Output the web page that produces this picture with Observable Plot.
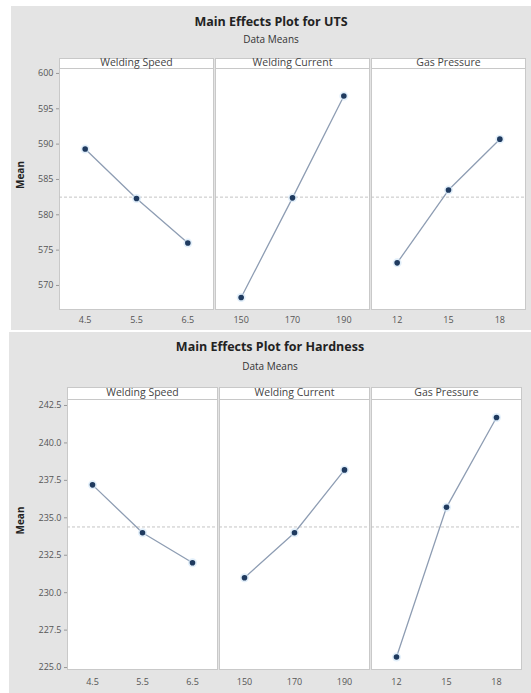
<!DOCTYPE html>
<html>
<head>
<meta charset="utf-8">
<script src="https://cdn.jsdelivr.net/npm/d3@7"></script>
<script src="https://cdn.jsdelivr.net/npm/@observablehq/plot@0.6"></script>
<style>
  html, body { margin: 0; padding: 0; background: #ffffff; width: 531px; height: 693px; overflow: hidden; }
  .fig { position: absolute; background: #e4e4e4; font-family: "Open Sans", sans-serif; }
  .title { position: absolute; left: 0; right: 0; text-align: center; font-weight: bold; font-size: 12.5px; line-height: 16px; color: #222; }
  .subtitle { position: absolute; left: 0; right: 0; text-align: center; font-size: 10px; line-height: 12px; color: #333; }
  .plot { position: absolute; left: 0; }
</style>
</head>
<body>
<div id="fig1" class="fig" style="left:11px; top:6px; width:520px; height:324px;">
  <div class="title" style="top:8px;">Main Effects Plot for UTS</div>
  <div class="subtitle" style="top:27px;">Data Means</div>
  <div id="p1" class="plot" style="top:42px;"></div>
</div>
<div id="fig2" class="fig" style="left:9px; top:332px; width:522px; height:361px;">
  <div class="title" style="top:7px;">Main Effects Plot for Hardness</div>
  <div class="subtitle" style="top:28px;">Data Means</div>
  <div id="p2" class="plot" style="top:43px;"></div>
</div>
<script>
// ---- data ----
const factors = ["Welding Speed", "Welding Current", "Gas Pressure"];
const speedLevels = ["4.5", "5.5", "6.5"];
const currentLevels = ["150", "170", "190"];
const pressureLevels = ["12", "15", "18"];

const utsSpeed = [589.3, 582.3, 576.0];
const utsCurrent = [568.3, 582.4, 596.8];
const utsPressure = [573.2, 583.5, 590.7];

const hardSpeed = [237.2, 234.0, 232.0];
const hardCurrent = [231.0, 234.0, 238.2];
const hardPressure = [225.7, 235.7, 241.7];

const utsTicks = [570, 575, 580, 585, 590, 595, 600];
const hardTicks = [225, 227.5, 230, 232.5, 235, 237.5, 240, 242.5];

const levelSets = [speedLevels, currentLevels, pressureLevels];

function buildRows(seriesList) {
  const rows = [];
  seriesList.forEach((vals, fi) => {
    vals.forEach((v, i) => rows.push({factor: factors[fi], idx: i, level: levelSets[fi][i], mean: v}));
  });
  return rows;
}

function makeChart(opts) {
  const rows = buildRows(opts.series);
  const grand = d3.mean(rows, d => d.mean);
  const plotH = opts.height - opts.marginTop - opts.marginBottom;
  return Plot.plot({
    width: opts.width,
    height: opts.height,
    marginLeft: opts.marginLeft,
    marginRight: opts.marginRight,
    marginTop: opts.marginTop,
    marginBottom: opts.marginBottom,
    style: {background: "transparent", fontFamily: "'Open Sans', sans-serif", fontSize: "9px", color: "#444", overflow: "visible"},
    fx: {domain: factors, padding: 0.013, axis: null},
    x: {domain: [-0.5, 2.5], axis: null},
    y: {domain: opts.yDomain, axis: null},
    marks: [
      Plot.frame({fill: "white", stroke: "#c9c9c9"}),
      Plot.frame({fill: "white", stroke: "#c8c8c8", insetTop: -opts.strip, insetBottom: plotH}),
      Plot.text(factors, {fx: d => d, text: d => d, frameAnchor: "top", lineAnchor: "middle", dy: -opts.strip / 2 - 0.5, fontSize: 10.5, fill: "#444"}),
      Plot.axisY(opts.ticks, {tickSize: 3, tickPadding: 3, tickFormat: opts.tickFormat, label: null, stroke: "#999", fill: "#555"}),
      Plot.text(["Mean"], {fx: () => factors[0], text: d => d, frameAnchor: "left", rotate: -90, dx: opts.labelDx, fontWeight: "bold", fontSize: 10, fill: "#222"}),
      Plot.ruleY([grand], {stroke: "#c4c4c4", strokeDasharray: "3,2", strokeWidth: 1}),
      Plot.line(rows, {fx: "factor", x: "idx", y: "mean", stroke: "#8e9db3", strokeWidth: 1.3}),
      Plot.dot(rows, {fx: "factor", x: "idx", y: "mean", r: 4.5, fill: "#cfe4f6", fillOpacity: 0.6}),
      Plot.dot(rows, {fx: "factor", x: "idx", y: "mean", r: 2.8, fill: "#1f3a5f"}),
      Plot.text(rows, {fx: "factor", x: "idx", text: "level", frameAnchor: "bottom", lineAnchor: "middle", dy: opts.xLabelDy, fontSize: 9, fill: "#555"})
    ]
  });
}

document.getElementById("p1").appendChild(makeChart({
  series: [utsSpeed, utsCurrent, utsPressure],
  width: 520, height: 282,
  marginLeft: 48, marginRight: 6, marginTop: 20, marginBottom: 21,
  strip: 10,
  yDomain: [566.6, 600.7],
  ticks: utsTicks,
  tickFormat: d3.format("d"),
  labelDx: -39,
  xLabelDy: 11
}));

document.getElementById("p2").appendChild(makeChart({
  series: [hardSpeed, hardCurrent, hardPressure],
  width: 522, height: 318,
  marginLeft: 58, marginRight: 9, marginTop: 24, marginBottom: 24,
  strip: 12,
  yDomain: [224.87, 242.9],
  ticks: hardTicks,
  tickFormat: d3.format(".1f"),
  labelDx: -47,
  xLabelDy: 13
}));
</script>
</body>
</html>
